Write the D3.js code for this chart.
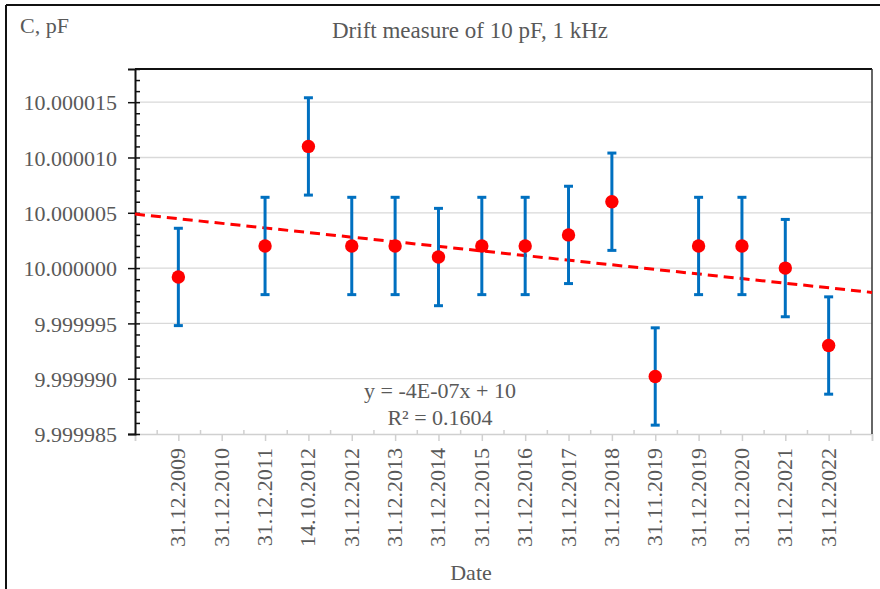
<!DOCTYPE html>
<html>
<head>
<meta charset="utf-8">
<script src="https://cdn.jsdelivr.net/npm/d3@7"></script>
<style>
  body { margin: 0; background: #fff; }
  text { font-family: "Liberation Serif", "Times New Roman", serif; fill: #595959; }
</style>
</head>
<body>
<svg id="canvas" width="880" height="589"></svg>
<script>
// tick labels on the x axis (position 1..16, position 0 and 17 are the axis ends)
const dateLabels = ['31.12.2009', '31.12.2010', '31.12.2011', '14.10.2012', '31.12.2012',
    '31.12.2013', '31.12.2014', '31.12.2015', '31.12.2016', '31.12.2017', '31.12.2018',
    '31.11.2019', '31.12.2019', '31.12.2020', '31.12.2021', '31.12.2022']

// measured points: x index and capacitance in pF
const pointX = [1, 3, 4, 5, 6, 7, 8, 9, 10, 11, 12, 13, 14, 15, 16]
const capacitance = [9.9999992, 10.000002, 10.000011, 10.000002, 10.000002, 10.000001, 10.000002,
    10.000002, 10.000003, 10.000006, 9.9999902, 10.000002, 10.000002, 10.000000, 9.999993]
const errorBar = 0.0000044

const yTicks = [9.999985, 9.999990, 9.999995, 10.000000, 10.000005, 10.000010, 10.000015]

let canvas = d3.select('#canvas')

let plotLeft = 135, plotRight = 872, plotTop = 69, plotBottom = 434

let xScale = d3.scaleLinear().domain([0, 17]).range([plotLeft, plotRight])
let yScale = d3.scaleLinear().domain([9.999985, 10.000018]).range([plotBottom, plotTop])

// outer frame (top and left visible)
canvas.append('line').attr('x1', 6).attr('x2', 880).attr('y1', 5).attr('y2', 5)
    .attr('stroke', '#111').attr('stroke-width', 2)
canvas.append('line').attr('x1', 6).attr('x2', 6).attr('y1', 5).attr('y2', 589)
    .attr('stroke', '#111').attr('stroke-width', 2)

// grid lines
canvas.append('g').selectAll('line')
    .data(yTicks.slice(1))
    .enter()
    .append('line')
    .attr('x1', plotLeft).attr('x2', plotRight)
    .attr('y1', (d) => yScale(d)).attr('y2', (d) => yScale(d))
    .attr('stroke', '#d9d9d9').attr('stroke-width', 1.3)

// x axis (light gray, ticks below at integer positions, minor ticks above)
let xAxis = d3.axisBottom(xScale)
    .tickValues(d3.range(0, 18))
    .tickSize(7)
    .tickFormat('')
let xAxisGroup = canvas.append('g')
    .attr('transform', 'translate(0,' + plotBottom + ')')
    .call(xAxis)
xAxisGroup.select('.domain').attr('stroke', '#d0d0d0').attr('stroke-width', 1.5)
xAxisGroup.selectAll('.tick line').attr('stroke', '#d0d0d0').attr('stroke-width', 1.5)

let xMinor = d3.axisTop(xScale)
    .tickValues(d3.range(0.5, 17, 1))
    .tickSize(4)
    .tickFormat('')
let xMinorGroup = canvas.append('g')
    .attr('transform', 'translate(0,' + plotBottom + ')')
    .call(xMinor)
xMinorGroup.select('.domain').remove()
xMinorGroup.selectAll('.tick line').attr('stroke', '#d0d0d0').attr('stroke-width', 1.5)

// x labels, rotated
canvas.append('g').selectAll('text')
    .data(dateLabels)
    .enter()
    .append('text')
    .attr('transform', (d, i) => 'translate(' + (xScale(i + 1) + 7) + ',' + (plotBottom + 14) + ') rotate(-90)')
    .attr('text-anchor', 'end')
    .attr('font-size', 22)
    .text((d) => d)

// plot frame top and right
canvas.append('line').attr('x1', plotLeft).attr('x2', plotRight).attr('y1', plotTop).attr('y2', plotTop)
    .attr('stroke', '#111').attr('stroke-width', 2)
canvas.append('line').attr('x1', plotRight).attr('x2', plotRight).attr('y1', plotTop).attr('y2', plotBottom)
    .attr('stroke', '#333').attr('stroke-width', 1.5)

// y axis
let yMinor = d3.axisRight(yScale)
    .tickValues(d3.range(0, 34).map((i) => 9.999985 + i * 0.000001))
    .tickSize(5)
    .tickFormat('')
let yMinorGroup = canvas.append('g')
    .attr('transform', 'translate(' + plotLeft + ',0)')
    .call(yMinor)
yMinorGroup.select('.domain').remove()
yMinorGroup.selectAll('.tick line').attr('stroke', '#111').attr('stroke-width', 1.5)

let yAxis = d3.axisLeft(yScale)
    .tickValues(yTicks)
    .tickSize(7)
    .tickPadding(11)
    .tickFormat(d3.format('.6f'))
let yAxisGroup = canvas.append('g')
    .attr('transform', 'translate(' + plotLeft + ',0)')
    .call(yAxis)
yAxisGroup.select('.domain').attr('stroke', '#111').attr('stroke-width', 2)
yAxisGroup.selectAll('.tick line').attr('stroke', '#111').attr('stroke-width', 1.5)
yAxisGroup.selectAll('.tick text')
    .attr('font-size', 22)
    .attr('font-family', '"Liberation Serif", serif')
    .attr('fill', '#595959')
    .attr('dy', '0.35em')

// linear trend from the points
let meanX = d3.mean(pointX)
let meanY = d3.mean(capacitance)
let sxy = d3.sum(pointX, (x, i) => (x - meanX) * (capacitance[i] - meanY))
let sxx = d3.sum(pointX, (x) => (x - meanX) * (x - meanX))
let slope = sxy / sxx
let intercept = meanY - slope * meanX

canvas.append('line')
    .attr('x1', xScale(0)).attr('y1', yScale(intercept))
    .attr('x2', xScale(17)).attr('y2', yScale(intercept + slope * 17))
    .attr('stroke', '#ff0000')
    .attr('stroke-width', 3)
    .attr('stroke-dasharray', '10,6')

// error bars
let bars = canvas.append('g').selectAll('g')
    .data(pointX)
    .enter()
    .append('g')

bars.append('line')
    .attr('x1', (d) => xScale(d)).attr('x2', (d) => xScale(d))
    .attr('y1', (d, i) => yScale(capacitance[i] + errorBar))
    .attr('y2', (d, i) => yScale(capacitance[i] - errorBar))
    .attr('stroke', '#0070c0').attr('stroke-width', 3)

bars.append('line')
    .attr('x1', (d) => xScale(d) - 4.5).attr('x2', (d) => xScale(d) + 4.5)
    .attr('y1', (d, i) => yScale(capacitance[i] + errorBar))
    .attr('y2', (d, i) => yScale(capacitance[i] + errorBar))
    .attr('stroke', '#0070c0').attr('stroke-width', 3)

bars.append('line')
    .attr('x1', (d) => xScale(d) - 4.5).attr('x2', (d) => xScale(d) + 4.5)
    .attr('y1', (d, i) => yScale(capacitance[i] - errorBar))
    .attr('y2', (d, i) => yScale(capacitance[i] - errorBar))
    .attr('stroke', '#0070c0').attr('stroke-width', 3)

// markers
canvas.append('g').selectAll('circle')
    .data(pointX)
    .enter()
    .append('circle')
    .attr('cx', (d) => xScale(d))
    .attr('cy', (d, i) => yScale(capacitance[i]))
    .attr('r', 6.7)
    .attr('fill', '#ff0000')

// texts
canvas.append('text').attr('x', 20).attr('y', 33).attr('font-size', 22).text('C, pF')
canvas.append('text').attr('x', 470).attr('y', 38).attr('font-size', 23)
    .attr('text-anchor', 'middle').text('Drift measure of 10 pF, 1 kHz')
canvas.append('text').attr('x', 471).attr('y', 580).attr('font-size', 22)
    .attr('text-anchor', 'middle').text('Date')
canvas.append('text').attr('x', 440).attr('y', 398).attr('font-size', 22)
    .attr('text-anchor', 'middle').text('y = -4E-07x + 10')
canvas.append('text').attr('x', 440).attr('y', 425).attr('font-size', 22)
    .attr('text-anchor', 'middle').text('R² = 0.1604')
</script>
</body>
</html>
